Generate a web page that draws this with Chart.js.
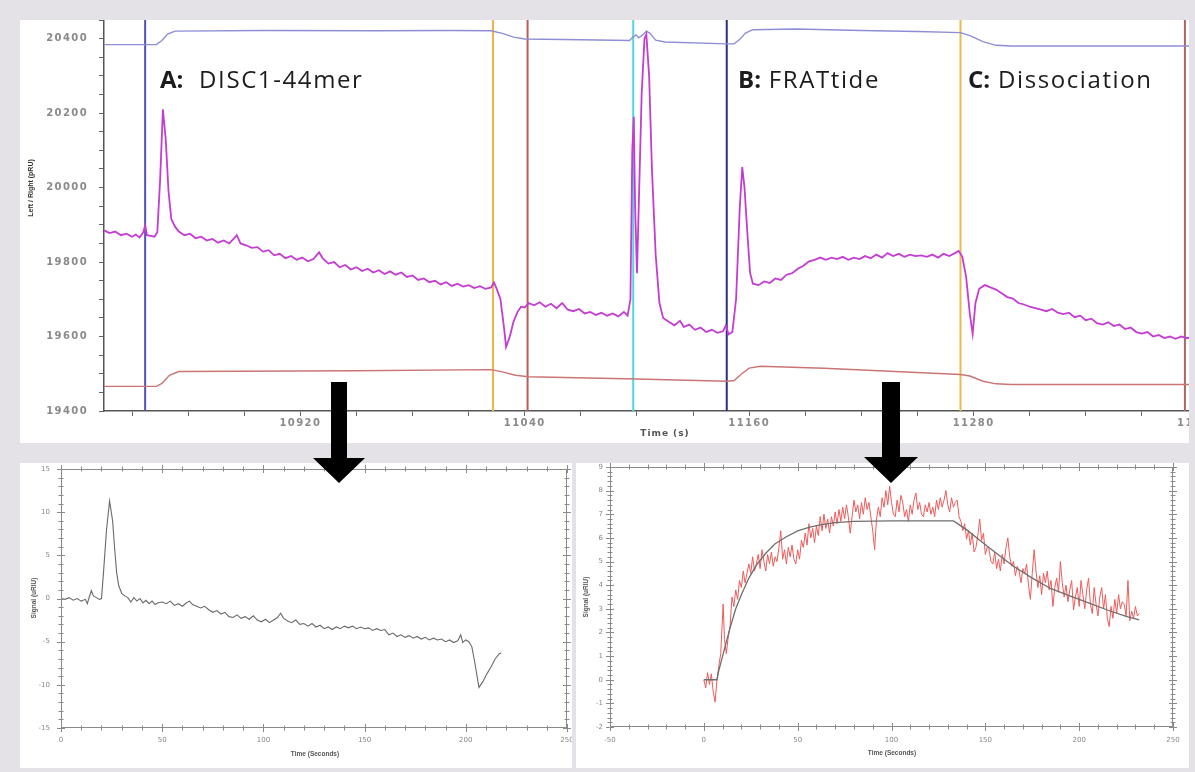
<!DOCTYPE html>
<html>
<head>
<meta charset="utf-8">
<script src="https://cdn.jsdelivr.net/npm/chart.js@4/dist/chart.umd.min.js"></script>
<style>
  html, body { margin: 0; padding: 0; }
  body { width: 1195px; height: 772px; background: #e4e2e7; position: relative; overflow: hidden; font-family: "DejaVu Sans", sans-serif; }
  .panel { position: absolute; background: #fff; overflow: hidden; }
  #pTop { left: 20px; top: 20px; width: 1169px; height: 423px; }
  #pLeft { left: 20px; top: 463px; width: 552px; height: 305px; }
  #pRight { left: 576px; top: 463px; width: 613px; height: 305px; }
  canvas { position: absolute; left: 0; top: 0; }
  .txt { position: absolute; white-space: nowrap; z-index: 5; }
  .phase { font-family: "Open Sans", sans-serif; font-size: 24px; line-height: 24px; color: #1c1c1c; letter-spacing: 1.6px; }
  .phase b { font-weight: 700; letter-spacing: 0; }
  .rot { transform-origin: center center; transform: translate(-50%, -50%) rotate(-90deg); }
  .ctr { transform: translate(-50%, -50%); }
  #arrows { position: absolute; left: 0; top: 0; z-index: 6; }
</style>
</head>
<body>
<div class="panel" id="pTop"><canvas id="cTop" width="1200" height="423"></canvas></div>
<div class="panel" id="pLeft"><canvas id="cLeft" width="552" height="305"></canvas></div>
<div class="panel" id="pRight"><canvas id="cRight" width="613" height="305"></canvas></div>

<div class="txt phase" style="left:160px; top:67px;"><b>A:</b>&nbsp; DISC1-44mer</div>
<div class="txt phase" style="left:738px; top:67px;"><b>B:</b> FRATtide</div>
<div class="txt phase" style="left:968px; top:67px;"><b>C:</b> Dissociation</div>

<div class="txt rot" style="left:30px; top:188px; font: bold 7px 'Liberation Sans', sans-serif; color:#333;">Left / Right (pRU)</div>
<div class="txt ctr" style="left:665px; top:433px; font: bold 9px 'DejaVu Sans', sans-serif; color:#555; letter-spacing:1px;">Time (s)</div>
<div class="txt rot" style="left:33px; top:598px; font: bold 6.5px 'Liberation Sans', sans-serif; color:#555;">Signal (uRIU)</div>
<div class="txt ctr" style="left:315px; top:753px; font: bold 6.5px 'Liberation Sans', sans-serif; color:#555;">Time (Seconds)</div>
<div class="txt rot" style="left:585px; top:597px; font: bold 6.5px 'Liberation Sans', sans-serif; color:#555;">Signal (uRIU)</div>
<div class="txt ctr" style="left:892px; top:752px; font: bold 6.5px 'Liberation Sans', sans-serif; color:#555;">Time (Seconds)</div>

<svg id="arrows" width="1195" height="772">
  <polygon points="331,382 347,382 347,458 365,458 339,483 313,458 331,458" fill="#000"/>
  <polygon points="882,382 900,382 900,457 918,457 891,483 864,457 882,457" fill="#000"/>
</svg>

<script>
// ---- Sensorgram (top): left/right difference signal, time in s ----
const leftRightTrace = [
  [10815,19885],[10818,19878],[10821,19882],[10824,19872],[10827,19876],[10830,19868],[10832,19874],[10834,19866],
  [10836,19880],[10837,19898],[10838,19872],[10840,19870],[10842,19868],[10843.5,19880],[10845,20020],[10846.5,20210],
  [10848,20130],[10849.5,19990],[10851,19915],[10853,19895],[10855,19882],[10858,19872],[10861,19876],[10864,19864],
  [10867,19868],[10870,19858],[10873,19862],[10876,19852],[10879,19858],[10882,19850],[10885,19866],[10886,19872],
  [10888,19850],[10891,19845],[10894,19838],[10897,19840],[10900,19828],[10903,19832],[10906,19818],[10909,19822],
  [10912,19810],[10915,19816],[10918,19806],[10921,19812],[10924,19802],[10927,19808],[10930,19826],[10932,19810],
  [10935,19796],[10938,19800],[10941,19786],[10944,19792],[10947,19780],[10950,19786],[10953,19776],[10956,19782],
  [10959,19772],[10962,19778],[10965,19768],[10968,19775],[10971,19766],[10974,19772],[10977,19760],[10980,19764],
  [10983,19752],[10986,19756],[10989,19746],[10992,19750],[10995,19740],[10998,19746],[11001,19736],[11004,19742],
  [11007,19734],[11010,19738],[11013,19730],[11016,19735],[11019,19728],[11022,19732],[11023.5,19745],[11025,19728],
  [11027,19700],[11029,19620],[11030,19572],[11032,19600],[11034,19640],[11036,19665],[11038,19680],[11040,19678],
  [11042,19690],[11045,19684],[11048,19692],[11051,19680],[11054,19688],[11057,19676],[11060,19690],[11063,19672],
  [11066,19668],[11069,19674],[11072,19662],[11075,19666],[11078,19658],[11081,19664],[11084,19656],[11087,19662],
  [11090,19654],[11093,19666],[11095,19656],[11096.5,19700],[11097.5,20100],[11098.3,20190],[11099,19950],[11100,19770],
  [11101,19960],[11102.5,20250],[11104,20400],[11105,20412],[11106.5,20300],[11108,20050],[11110,19820],[11112,19690],
  [11114,19650],[11117,19640],[11120,19630],[11123,19642],[11125,19626],[11128,19632],[11131,19618],[11134,19624],
  [11137,19612],[11140,19618],[11143,19610],[11146,19614],[11147.5,19630],[11149,19606],[11151,19612],[11153,19700],
  [11155,19950],[11156.3,20055],[11157.5,20000],[11159,19880],[11160.5,19770],[11162,19742],[11165,19738],[11168,19748],
  [11171,19744],[11174,19756],[11177,19752],[11180,19766],[11183,19770],[11186,19782],[11189,19790],[11192,19802],
  [11195,19806],[11198,19812],[11201,19806],[11204,19812],[11207,19808],[11210,19814],[11213,19806],[11216,19812],
  [11219,19808],[11222,19816],[11225,19810],[11228,19820],[11231,19812],[11234,19824],[11237,19816],[11240,19822],
  [11243,19814],[11246,19820],[11249,19816],[11252,19818],[11255,19814],[11258,19820],[11261,19812],[11264,19822],
  [11267,19816],[11270,19824],[11272,19830],[11274,19814],[11276,19760],[11278,19660],[11279.5,19607],[11281,19690],
  [11283,19728],[11286,19738],[11289,19732],[11292,19726],[11295,19716],[11298,19706],[11301,19702],[11304,19690],
  [11307,19686],[11310,19680],[11313,19676],[11316,19672],[11319,19668],[11322,19674],[11325,19664],[11328,19660],
  [11331,19664],[11334,19652],[11337,19656],[11340,19644],[11343,19648],[11346,19636],[11349,19632],[11352,19638],
  [11355,19628],[11358,19632],[11361,19620],[11364,19624],[11367,19612],[11370,19608],[11373,19612],[11376,19600],
  [11379,19604],[11382,19596],[11385,19600],[11388,19594],[11391,19600],[11394,19596],[11398,19598]
];
// Left channel (upper trace)
const leftChannel = [
  [10815,20384],[10843,20384],[10846,20395],[10849,20412],[10853,20420],[10900,20422],[10960,20421],[11000,20422],
  [11022,20421],[11028,20414],[11034,20404],[11040,20399],[11070,20397],[11096,20395],[11098,20405],[11099.5,20410],
  [11101,20402],[11103,20410],[11105,20420],[11107,20414],[11110,20396],[11115,20391],[11148,20386],[11152,20386],
  [11155,20398],[11158,20415],[11162,20424],[11185,20426],[11220,20422],[11250,20419],[11273,20416],[11278,20408],
  [11285,20392],[11292,20382],[11300,20380],[11398,20380]
];
// Right channel (lower trace)
const rightChannel = [
  [10815,19466],[10843,19466],[10846,19474],[10850,19496],[10855,19506],[10950,19508],[11022,19511],[11028,19505],
  [11035,19496],[11042,19492],[11100,19486],[11148,19480],[11152,19482],[11156,19500],[11160,19515],[11166,19520],
  [11200,19515],[11273,19498],[11278,19494],[11285,19480],[11292,19473],[11300,19471],[11398,19471]
];
// Injection / wash event times (s)
const eventTimes = [10837, 11023, 11041.5, 11098, 11148, 11273, 11393];
const eventColors = ['#5151b8', '#efb24e', '#b85c5c', '#4fd6de', '#2d2d80', '#ebb84e', '#ad6464'];
const topXLabels = [10920, 11040, 11160, 11280, 11400];
const topYLabels = [19400, 19600, 19800, 20000, 20200, 20400];

// ---- DISC1-44mer injection, referenced (bottom left) ----
const discTrace = [
  [0,0],[2,-0.1],[4,0.1],[6,-0.2],[8,0],[10,-0.3],[12,-0.1],[13,-0.6],[14,0.2],[15,0.9],[16,0.3],[17.5,0.1],
  [19,-0.1],[20,0],[21,3],[22.5,8],[24,11.3],[25.5,9],[26.5,5.8],[27.5,3],[28.5,1.5],[30,0.6],[31.5,0.3],[33,0.1],
  [34.5,-0.4],[36,0.1],[37.5,-0.3],[39,0],[40.5,-0.5],[42,-0.2],[43.5,-0.6],[45,-0.3],[46.5,-0.7],[48,-0.5],[50,-0.4],
  [52,-0.6],[54,-0.3],[56,-0.8],[58,-0.6],[60,-0.9],[62,-0.5],[63.5,-0.3],[65,-0.7],[67,-0.9],[69,-1.1],[71,-0.9],
  [73,-1.3],[75,-1.6],[77,-1.4],[79,-1.8],[81,-1.6],[83,-2.1],[85,-2.2],[87,-1.9],[89,-2.3],[91,-2.1],[93,-2.4],
  [95,-2.0],[97,-2.5],[99,-2.7],[101,-2.4],[103,-2.8],[105,-2.5],[107,-2.2],[108.5,-1.7],[110,-2.3],[112,-2.6],
  [114,-2.8],[116,-2.5],[118,-3.0],[120,-2.9],[122,-3.2],[124,-2.9],[126,-3.3],[128,-3.1],[130,-3.5],[132,-3.3],
  [134,-3.6],[136,-3.3],[138,-3.5],[140,-3.2],[142,-3.4],[144,-3.2],[146,-3.5],[148,-3.3],[150,-3.5],[152,-3.4],
  [154,-3.7],[156,-3.5],[158,-3.7],[160,-3.6],[162,-4.2],[164,-4.0],[166,-4.4],[168,-4.2],[170,-4.5],[172,-4.3],
  [174,-4.6],[176,-4.4],[178,-4.7],[180,-4.5],[182,-4.8],[184,-4.6],[186,-4.8],[188,-4.7],[190,-5.0],[192,-4.8],
  [194,-5.1],[196,-4.9],[197.5,-4.2],[198.5,-5.1],[200,-4.8],[201.5,-5.0],[203,-5.6],[204.5,-7.5],[206.5,-10.3],
  [208.5,-9.6],[210.5,-8.7],[212.5,-7.9],[214.5,-7.0],[216.5,-6.4],[217.5,-6.3]
];
const discXLabels = [0, 50, 100, 150, 200, 250];
const discYLabels = [-15, -10, -5, 0, 5, 10, 15];

// ---- FRATtide association / dissociation (bottom right) ----
const fratTrace = [
  [0,0],[1,-0.35],[2,0.3],[3,-0.2],[4,0.25],[5,-0.5],[6,-0.95],[7,0],[8,0.6],[9,1.1],[10.3,3.2],[11,1.7],[12,1.1],
  [13,1.8],[14,2.3],[15,3.5],[16,3.1],[17,3.8],[18,3.4],[19,4.2],[20,3.9],[21,4.6],[22,4.1],[23,4.5],[24,4.9],
  [25,4.5],[26,5.2],[27,4.6],[28,4.9],[29,5.3],[30,4.7],[31,5.5],[32,5.0],[33,4.6],[34,5.3],[35,4.9],[36,5.4],
  [37,4.8],[38,5.2],[39,5.0],[40,5.6],[41,6.3],[42,5.1],[43,5.5],[44,4.9],[45,5.6],[46,5.2],[47,5.7],[48,5.1],
  [49,4.9],[50,5.5],[51,5.1],[52,5.9],[53,5.6],[54,6.2],[55,5.7],[56,6.6],[57,6.0],[58,6.4],[59,5.8],[60,6.5],
  [61,6.1],[62,6.9],[63,6.3],[64,7.0],[65,6.4],[66,6.8],[67,6.2],[68,6.9],[69,6.5],[70,7.1],[71,6.6],[72,7.2],
  [73,6.7],[74,7.3],[75,6.8],[76,7.4],[77,6.9],[78,6.2],[79,6.9],[80,7.6],[81,7.1],[82,7.4],[83,6.8],[84,7.5],
  [85,7.0],[86,7.7],[87,7.2],[88,7.5],[89,6.9],[90,6.3],[91,5.5],[92,6.8],[93,7.3],[94,6.9],[95,7.7],[96,7.3],
  [97,8.0],[98,7.4],[99,8.2],[100,7.5],[101,7.0],[102,6.9],[103,7.6],[104,7.1],[105,7.8],[106,7.5],[107,6.9],
  [108,7.2],[109,6.7],[110,7.4],[111,7.0],[112,7.6],[113,7.9],[114,7.2],[115,7.5],[116,7.0],[117,6.9],[118,7.4],
  [119,7.1],[120,7.5],[121,7.0],[122,7.3],[123,6.9],[124,7.6],[125,7.2],[126,7.7],[127,7.3],[128,7.6],[129,8.0],
  [130,7.4],[131,7.1],[132,7.7],[133,7.3],[134,7.5],[135,7.6],[136,6.9],[137,6.7],[138,6.3],[139,6.6],[140,5.95],
  [141,6.3],[142,5.7],[143,6.2],[144,5.4],[145,5.6],[146,6.1],[147,6.8],[148,5.9],[149,6.2],[150,5.3],[151,5.6],
  [152,5.5],[153,5.0],[154,4.9],[155,5.4],[156,4.7],[157,5.1],[158,4.6],[159,5.3],[160,4.9],[161,5.6],[162,6.0],
  [163,5.2],[164,4.8],[165,5.0],[166,4.4],[167,4.8],[168,4.6],[169,4.1],[170,4.7],[171,4.5],[172,4.9],[173,4.0],
  [174,3.4],[175,4.5],[176,5.5],[177,4.6],[178,3.9],[179,4.4],[180,3.6],[181,4.5],[182,4.1],[183,4.6],[184,3.8],
  [185,4.2],[186,3.1],[187,3.9],[188,4.3],[189,3.7],[190,5.0],[191,4.1],[192,3.5],[193,4.0],[194,3.3],[195,3.8],
  [196,4.2],[197,2.95],[198,3.5],[199,3.9],[200,3.1],[201,4.2],[202,3.6],[203,3.0],[204,3.8],[205,4.3],[206,3.2],
  [207,2.8],[208,3.9],[209,3.2],[210,2.7],[211,3.5],[212,3.9],[213,3.0],[214,3.6],[215,2.6],[216,2.25],[217,3.1],
  [218,2.6],[219,3.4],[220,2.8],[221,3.6],[222,3.0],[223,3.3],[224,3.2],[225,2.7],[226,4.2],[227,2.5],[228,2.9],
  [229,2.6],[230,3.1],[231,2.7],[232,2.8]
];
// Fitted binding curve
const fratFit = [
  [0,0],[7,0],[8,0.4],[10,1.0],[12,1.6],[14,2.2],[17,3.0],[20,3.6],[24,4.3],[28,4.85],[33,5.35],[38,5.75],
  [44,6.05],[50,6.3],[56,6.45],[62,6.55],[70,6.65],[80,6.7],[100,6.72],[120,6.72],[133,6.72],[140,6.35],
  [147,5.9],[155,5.4],[165,4.8],[175,4.3],[185,3.85],[195,3.55],[205,3.25],[215,2.95],[225,2.68],[232,2.53]
];
const fratXLabels = [-50, 0, 50, 100, 150, 200, 250];
const fratYLabels = [-2, -1, 0, 1, 2, 3, 4, 5, 6, 7, 8, 9];

// ---- helpers ----
const toXY = arr => arr.map(([x, y]) => ({ x, y }));
const pinY = w => s => { s.width = w; s.paddingTop = 0; s.paddingBottom = 0; };
const pinX = h => s => { s.height = h; s.paddingLeft = 0; s.paddingRight = 0; };
const labelFrom = list => v => (list.includes(Math.round(v * 1000) / 1000) ? String(v) : '');
const lineDs = (label, pts, color, width, order) => ({
  label, data: toXY(pts), borderColor: color, borderWidth: width, showLine: true,
  pointRadius: 0, fill: false, tension: 0, order
});

// Wider tracking for the sensorgram tick numbers
const spacedText = {
  id: 'spacedText',
  beforeDraw(chart) { chart.ctx.letterSpacing = '1.4px'; },
  afterDraw(chart) { chart.ctx.letterSpacing = '0px'; }
};

// Box frame with minor/major ticks across every edge
const frameTicks = {
  id: 'frameTicks',
  afterDatasetsDraw(chart, args, o) {
    const { ctx, chartArea: a, scales: { x, y } } = chart;
    ctx.save();
    ctx.strokeStyle = o.color;
    ctx.lineWidth = 1;
    ctx.strokeRect(a.left + 0.5, a.top + 0.5, a.width - 1, a.height - 1);
    const isMajor = (v, m) => Math.abs(v / m - Math.round(v / m)) < 1e-6;
    ctx.beginPath();
    const nx = Math.round((x.max - x.min) / o.xMinor);
    for (let i = 0; i <= nx; i++) {
      const v = x.min + i * o.xMinor;
      const len = isMajor(v, o.xMajor) ? 4 : 2.5;
      const px = Math.round(x.getPixelForValue(v)) + 0.5;
      ctx.moveTo(px, a.bottom - len); ctx.lineTo(px, a.bottom + len);
      ctx.moveTo(px, a.top - len); ctx.lineTo(px, a.top + len);
    }
    const ny = Math.round((y.max - y.min) / o.yMinor);
    for (let i = 0; i <= ny; i++) {
      const v = y.min + i * o.yMinor;
      const len = isMajor(v, o.yMajor) ? 4 : 2.5;
      const py = Math.round(y.getPixelForValue(v)) + 0.5;
      ctx.moveTo(a.left - len, py); ctx.lineTo(a.left + len, py);
      ctx.moveTo(a.right - len, py); ctx.lineTo(a.right + len, py);
    }
    ctx.stroke();
    ctx.restore();
  }
};

const common = {
  responsive: false,
  animation: false,
  events: [],
  plugins: { legend: { display: false }, tooltip: { enabled: false } }
};

// ---- top sensorgram ----
const topYMin = 19400, topYMax = 20450;
const tickFontTop = { family: 'DejaVu Sans', size: 10, weight: 'bold' };
new Chart(document.getElementById('cTop'), {
  type: 'scatter',
  data: {
    datasets: [
      lineDs('Left / Right', leftRightTrace, '#c43cd2', 1.8, 0),
      lineDs('Left', leftChannel, '#8e8ed6', 1.4, 1),
      lineDs('Right', rightChannel, '#cc7474', 1.4, 1),
      ...eventTimes.map((t, i) => lineDs('event', [[t, topYMin], [t, topYMax]], eventColors[i], 2, 2))
    ]
  },
  options: {
    ...common,
    layout: { padding: { left: 0, top: 0, right: 22, bottom: 0 } },
    scales: {
      x: {
        type: 'linear', min: 10815, max: 11400,
        ticks: { stepSize: 30, includeBounds: false, autoSkip: false, maxRotation: 0, maxTicksLimit: 1000,
                 callback: labelFrom(topXLabels), font: tickFontTop, color: '#8a8a8a', padding: 1 },
        grid: { drawOnChartArea: false, tickLength: 5, color: '#666' },
        border: { color: '#555', width: 1.5 },
        afterFit: pinX(32)
      },
      y: {
        type: 'linear', min: topYMin, max: topYMax,
        ticks: { stepSize: 50, includeBounds: false, autoSkip: false, maxTicksLimit: 1000,
                 callback: labelFrom(topYLabels), font: tickFontTop, color: '#8a8a8a', padding: 11 },
        grid: { drawOnChartArea: false, tickLength: 5, color: '#666' },
        border: { color: '#555', width: 1.5 },
        afterFit: pinY(84)
      }
    }
  },
  plugins: [spacedText]
});

// ---- bottom panels ----
const tickFontSmall = { family: 'DejaVu Sans', size: 7 };
function smallScales(xMin, xMax, xStep, xLabels, yMin, yMax, yStep, yLabels, yWidth, xHeight, yPad, xPad) {
  return {
    x: {
      type: 'linear', min: xMin, max: xMax,
      ticks: { stepSize: xStep, autoSkip: false, maxRotation: 0, maxTicksLimit: 1000,
               callback: labelFrom(xLabels), font: tickFontSmall, color: '#888', padding: xPad },
      grid: { display: false, drawTicks: false },
      border: { display: false },
      afterFit: pinX(xHeight)
    },
    y: {
      type: 'linear', min: yMin, max: yMax,
      ticks: { stepSize: yStep, autoSkip: false, maxTicksLimit: 1000,
               callback: labelFrom(yLabels), font: tickFontSmall, color: '#888', padding: yPad },
      grid: { display: false, drawTicks: false },
      border: { display: false },
      afterFit: pinY(yWidth)
    }
  };
}

new Chart(document.getElementById('cLeft'), {
  type: 'scatter',
  data: { datasets: [lineDs('DISC1-44mer', discTrace, '#6a6a6a', 1.1, 0)] },
  options: {
    ...common,
    layout: { padding: { left: 0, top: 6, right: 5, bottom: 0 } },
    scales: smallScales(0, 250, 50, discXLabels, -15, 15, 5, discYLabels, 41, 40, 11, 8),
    plugins: { ...common.plugins, frameTicks: { color: '#8a8a8a', xMinor: 10, xMajor: 50, yMinor: 1, yMajor: 5 } }
  },
  plugins: [frameTicks]
});

new Chart(document.getElementById('cRight'), {
  type: 'scatter',
  data: {
    datasets: [
      lineDs('Fit', fratFit, '#6e6e6e', 1.3, 0),
      lineDs('FRATtide', fratTrace, '#f05a5a', 1, 1)
    ]
  },
  options: {
    ...common,
    layout: { padding: { left: 0, top: 4, right: 16, bottom: 0 } },
    scales: smallScales(-50, 250, 50, fratXLabels, -2, 9, 1, fratYLabels, 34, 41, 7, 9),
    plugins: { ...common.plugins, frameTicks: { color: '#8a8a8a', xMinor: 10, xMajor: 50, yMinor: 0.2, yMajor: 1 } }
  },
  plugins: [frameTicks]
});
</script>
</body>
</html>
